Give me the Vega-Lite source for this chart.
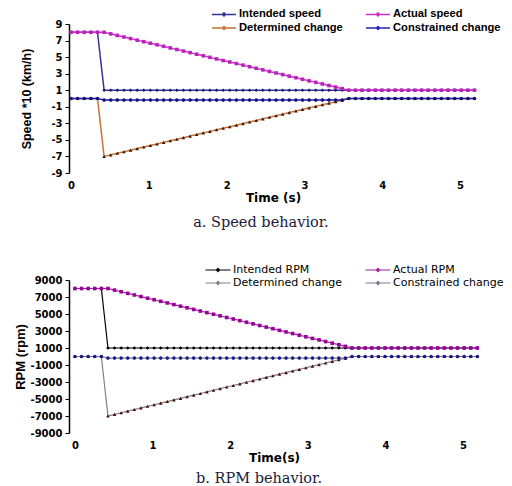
{
  "$schema": "https://vega.github.io/schema/vega-lite/v6.json",
  "padding": {"left": 14, "top": 7, "right": 5, "bottom": 0},
  "background": "white",
  "spacing": 33,
  "config": {"view": {"stroke": null}, "font": "Liberation Sans"},
  "datasets": {
    "speed": [
      {"t":0,"Intended speed":8,"Actual speed":8,"Determined change":0,"Constrained change":0},
      {"t":0.085,"Intended speed":8,"Actual speed":8,"Determined change":0,"Constrained change":0},
      {"t":0.17,"Intended speed":8,"Actual speed":8,"Determined change":0,"Constrained change":0},
      {"t":0.255,"Intended speed":8,"Actual speed":8,"Determined change":0,"Constrained change":0},
      {"t":0.34,"Intended speed":8,"Actual speed":8,"Determined change":0,"Constrained change":0},
      {"t":0.425,"Intended speed":1,"Actual speed":8,"Determined change":-7,"Constrained change":-0.19},
      {"t":0.51,"Intended speed":1,"Actual speed":7.81,"Determined change":-6.81,"Constrained change":-0.19},
      {"t":0.595,"Intended speed":1,"Actual speed":7.62,"Determined change":-6.62,"Constrained change":-0.19},
      {"t":0.68,"Intended speed":1,"Actual speed":7.43,"Determined change":-6.43,"Constrained change":-0.19},
      {"t":0.765,"Intended speed":1,"Actual speed":7.24,"Determined change":-6.24,"Constrained change":-0.19},
      {"t":0.85,"Intended speed":1,"Actual speed":7.05,"Determined change":-6.05,"Constrained change":-0.19},
      {"t":0.935,"Intended speed":1,"Actual speed":6.86,"Determined change":-5.86,"Constrained change":-0.19},
      {"t":1.02,"Intended speed":1,"Actual speed":6.68,"Determined change":-5.68,"Constrained change":-0.19},
      {"t":1.105,"Intended speed":1,"Actual speed":6.49,"Determined change":-5.49,"Constrained change":-0.19},
      {"t":1.19,"Intended speed":1,"Actual speed":6.3,"Determined change":-5.3,"Constrained change":-0.19},
      {"t":1.275,"Intended speed":1,"Actual speed":6.11,"Determined change":-5.11,"Constrained change":-0.19},
      {"t":1.36,"Intended speed":1,"Actual speed":5.92,"Determined change":-4.92,"Constrained change":-0.19},
      {"t":1.445,"Intended speed":1,"Actual speed":5.73,"Determined change":-4.73,"Constrained change":-0.19},
      {"t":1.53,"Intended speed":1,"Actual speed":5.54,"Determined change":-4.54,"Constrained change":-0.19},
      {"t":1.615,"Intended speed":1,"Actual speed":5.35,"Determined change":-4.35,"Constrained change":-0.19},
      {"t":1.7,"Intended speed":1,"Actual speed":5.16,"Determined change":-4.16,"Constrained change":-0.19},
      {"t":1.785,"Intended speed":1,"Actual speed":4.97,"Determined change":-3.97,"Constrained change":-0.19},
      {"t":1.87,"Intended speed":1,"Actual speed":4.78,"Determined change":-3.78,"Constrained change":-0.19},
      {"t":1.955,"Intended speed":1,"Actual speed":4.59,"Determined change":-3.59,"Constrained change":-0.19},
      {"t":2.04,"Intended speed":1,"Actual speed":4.41,"Determined change":-3.41,"Constrained change":-0.19},
      {"t":2.125,"Intended speed":1,"Actual speed":4.22,"Determined change":-3.22,"Constrained change":-0.19},
      {"t":2.21,"Intended speed":1,"Actual speed":4.03,"Determined change":-3.03,"Constrained change":-0.19},
      {"t":2.295,"Intended speed":1,"Actual speed":3.84,"Determined change":-2.84,"Constrained change":-0.19},
      {"t":2.38,"Intended speed":1,"Actual speed":3.65,"Determined change":-2.65,"Constrained change":-0.19},
      {"t":2.465,"Intended speed":1,"Actual speed":3.46,"Determined change":-2.46,"Constrained change":-0.19},
      {"t":2.55,"Intended speed":1,"Actual speed":3.27,"Determined change":-2.27,"Constrained change":-0.19},
      {"t":2.635,"Intended speed":1,"Actual speed":3.08,"Determined change":-2.08,"Constrained change":-0.19},
      {"t":2.72,"Intended speed":1,"Actual speed":2.89,"Determined change":-1.89,"Constrained change":-0.19},
      {"t":2.805,"Intended speed":1,"Actual speed":2.7,"Determined change":-1.7,"Constrained change":-0.19},
      {"t":2.89,"Intended speed":1,"Actual speed":2.51,"Determined change":-1.51,"Constrained change":-0.19},
      {"t":2.975,"Intended speed":1,"Actual speed":2.32,"Determined change":-1.32,"Constrained change":-0.19},
      {"t":3.06,"Intended speed":1,"Actual speed":2.13,"Determined change":-1.13,"Constrained change":-0.19},
      {"t":3.145,"Intended speed":1,"Actual speed":1.95,"Determined change":-0.95,"Constrained change":-0.19},
      {"t":3.23,"Intended speed":1,"Actual speed":1.76,"Determined change":-0.76,"Constrained change":-0.19},
      {"t":3.315,"Intended speed":1,"Actual speed":1.57,"Determined change":-0.57,"Constrained change":-0.19},
      {"t":3.4,"Intended speed":1,"Actual speed":1.38,"Determined change":-0.38,"Constrained change":-0.19},
      {"t":3.485,"Intended speed":1,"Actual speed":1.19,"Determined change":-0.19,"Constrained change":-0.19},
      {"t":3.57,"Intended speed":1,"Actual speed":1,"Determined change":0,"Constrained change":0},
      {"t":3.655,"Intended speed":1,"Actual speed":1,"Determined change":0,"Constrained change":0},
      {"t":3.74,"Intended speed":1,"Actual speed":1,"Determined change":0,"Constrained change":0},
      {"t":3.825,"Intended speed":1,"Actual speed":1,"Determined change":0,"Constrained change":0},
      {"t":3.91,"Intended speed":1,"Actual speed":1,"Determined change":0,"Constrained change":0},
      {"t":3.995,"Intended speed":1,"Actual speed":1,"Determined change":0,"Constrained change":0},
      {"t":4.08,"Intended speed":1,"Actual speed":1,"Determined change":0,"Constrained change":0},
      {"t":4.165,"Intended speed":1,"Actual speed":1,"Determined change":0,"Constrained change":0},
      {"t":4.25,"Intended speed":1,"Actual speed":1,"Determined change":0,"Constrained change":0},
      {"t":4.335,"Intended speed":1,"Actual speed":1,"Determined change":0,"Constrained change":0},
      {"t":4.42,"Intended speed":1,"Actual speed":1,"Determined change":0,"Constrained change":0},
      {"t":4.505,"Intended speed":1,"Actual speed":1,"Determined change":0,"Constrained change":0},
      {"t":4.59,"Intended speed":1,"Actual speed":1,"Determined change":0,"Constrained change":0},
      {"t":4.675,"Intended speed":1,"Actual speed":1,"Determined change":0,"Constrained change":0},
      {"t":4.76,"Intended speed":1,"Actual speed":1,"Determined change":0,"Constrained change":0},
      {"t":4.845,"Intended speed":1,"Actual speed":1,"Determined change":0,"Constrained change":0},
      {"t":4.93,"Intended speed":1,"Actual speed":1,"Determined change":0,"Constrained change":0},
      {"t":5.015,"Intended speed":1,"Actual speed":1,"Determined change":0,"Constrained change":0},
      {"t":5.1,"Intended speed":1,"Actual speed":1,"Determined change":0,"Constrained change":0},
      {"t":5.185,"Intended speed":1,"Actual speed":1,"Determined change":0,"Constrained change":0}
    ],
    "rpm": [
      {"t":0,"Intended RPM":8000,"Actual RPM":8000,"Determined change":0,"Constrained change":0},
      {"t":0.085,"Intended RPM":8000,"Actual RPM":8000,"Determined change":0,"Constrained change":0},
      {"t":0.17,"Intended RPM":8000,"Actual RPM":8000,"Determined change":0,"Constrained change":0},
      {"t":0.255,"Intended RPM":8000,"Actual RPM":8000,"Determined change":0,"Constrained change":0},
      {"t":0.34,"Intended RPM":8000,"Actual RPM":8000,"Determined change":0,"Constrained change":0},
      {"t":0.425,"Intended RPM":1000,"Actual RPM":8000,"Determined change":-7000,"Constrained change":-190},
      {"t":0.51,"Intended RPM":1000,"Actual RPM":7810,"Determined change":-6810,"Constrained change":-190},
      {"t":0.595,"Intended RPM":1000,"Actual RPM":7620,"Determined change":-6620,"Constrained change":-190},
      {"t":0.68,"Intended RPM":1000,"Actual RPM":7430,"Determined change":-6430,"Constrained change":-190},
      {"t":0.765,"Intended RPM":1000,"Actual RPM":7240,"Determined change":-6240,"Constrained change":-190},
      {"t":0.85,"Intended RPM":1000,"Actual RPM":7050,"Determined change":-6050,"Constrained change":-190},
      {"t":0.935,"Intended RPM":1000,"Actual RPM":6860,"Determined change":-5860,"Constrained change":-190},
      {"t":1.02,"Intended RPM":1000,"Actual RPM":6680,"Determined change":-5680,"Constrained change":-190},
      {"t":1.105,"Intended RPM":1000,"Actual RPM":6490,"Determined change":-5490,"Constrained change":-190},
      {"t":1.19,"Intended RPM":1000,"Actual RPM":6300,"Determined change":-5300,"Constrained change":-190},
      {"t":1.275,"Intended RPM":1000,"Actual RPM":6110,"Determined change":-5110,"Constrained change":-190},
      {"t":1.36,"Intended RPM":1000,"Actual RPM":5920,"Determined change":-4920,"Constrained change":-190},
      {"t":1.445,"Intended RPM":1000,"Actual RPM":5730,"Determined change":-4730,"Constrained change":-190},
      {"t":1.53,"Intended RPM":1000,"Actual RPM":5540,"Determined change":-4540,"Constrained change":-190},
      {"t":1.615,"Intended RPM":1000,"Actual RPM":5350,"Determined change":-4350,"Constrained change":-190},
      {"t":1.7,"Intended RPM":1000,"Actual RPM":5160,"Determined change":-4160,"Constrained change":-190},
      {"t":1.785,"Intended RPM":1000,"Actual RPM":4970,"Determined change":-3970,"Constrained change":-190},
      {"t":1.87,"Intended RPM":1000,"Actual RPM":4780,"Determined change":-3780,"Constrained change":-190},
      {"t":1.955,"Intended RPM":1000,"Actual RPM":4590,"Determined change":-3590,"Constrained change":-190},
      {"t":2.04,"Intended RPM":1000,"Actual RPM":4410,"Determined change":-3410,"Constrained change":-190},
      {"t":2.125,"Intended RPM":1000,"Actual RPM":4220,"Determined change":-3220,"Constrained change":-190},
      {"t":2.21,"Intended RPM":1000,"Actual RPM":4030,"Determined change":-3030,"Constrained change":-190},
      {"t":2.295,"Intended RPM":1000,"Actual RPM":3840,"Determined change":-2840,"Constrained change":-190},
      {"t":2.38,"Intended RPM":1000,"Actual RPM":3650,"Determined change":-2650,"Constrained change":-190},
      {"t":2.465,"Intended RPM":1000,"Actual RPM":3460,"Determined change":-2460,"Constrained change":-190},
      {"t":2.55,"Intended RPM":1000,"Actual RPM":3270,"Determined change":-2270,"Constrained change":-190},
      {"t":2.635,"Intended RPM":1000,"Actual RPM":3080,"Determined change":-2080,"Constrained change":-190},
      {"t":2.72,"Intended RPM":1000,"Actual RPM":2890,"Determined change":-1890,"Constrained change":-190},
      {"t":2.805,"Intended RPM":1000,"Actual RPM":2700,"Determined change":-1700,"Constrained change":-190},
      {"t":2.89,"Intended RPM":1000,"Actual RPM":2510,"Determined change":-1510,"Constrained change":-190},
      {"t":2.975,"Intended RPM":1000,"Actual RPM":2320,"Determined change":-1320,"Constrained change":-190},
      {"t":3.06,"Intended RPM":1000,"Actual RPM":2130,"Determined change":-1130,"Constrained change":-190},
      {"t":3.145,"Intended RPM":1000,"Actual RPM":1950,"Determined change":-950,"Constrained change":-190},
      {"t":3.23,"Intended RPM":1000,"Actual RPM":1760,"Determined change":-760,"Constrained change":-190},
      {"t":3.315,"Intended RPM":1000,"Actual RPM":1570,"Determined change":-570,"Constrained change":-190},
      {"t":3.4,"Intended RPM":1000,"Actual RPM":1380,"Determined change":-380,"Constrained change":-190},
      {"t":3.485,"Intended RPM":1000,"Actual RPM":1190,"Determined change":-190,"Constrained change":-190},
      {"t":3.57,"Intended RPM":1000,"Actual RPM":1000,"Determined change":0,"Constrained change":0},
      {"t":3.655,"Intended RPM":1000,"Actual RPM":1000,"Determined change":0,"Constrained change":0},
      {"t":3.74,"Intended RPM":1000,"Actual RPM":1000,"Determined change":0,"Constrained change":0},
      {"t":3.825,"Intended RPM":1000,"Actual RPM":1000,"Determined change":0,"Constrained change":0},
      {"t":3.91,"Intended RPM":1000,"Actual RPM":1000,"Determined change":0,"Constrained change":0},
      {"t":3.995,"Intended RPM":1000,"Actual RPM":1000,"Determined change":0,"Constrained change":0},
      {"t":4.08,"Intended RPM":1000,"Actual RPM":1000,"Determined change":0,"Constrained change":0},
      {"t":4.165,"Intended RPM":1000,"Actual RPM":1000,"Determined change":0,"Constrained change":0},
      {"t":4.25,"Intended RPM":1000,"Actual RPM":1000,"Determined change":0,"Constrained change":0},
      {"t":4.335,"Intended RPM":1000,"Actual RPM":1000,"Determined change":0,"Constrained change":0},
      {"t":4.42,"Intended RPM":1000,"Actual RPM":1000,"Determined change":0,"Constrained change":0},
      {"t":4.505,"Intended RPM":1000,"Actual RPM":1000,"Determined change":0,"Constrained change":0},
      {"t":4.59,"Intended RPM":1000,"Actual RPM":1000,"Determined change":0,"Constrained change":0},
      {"t":4.675,"Intended RPM":1000,"Actual RPM":1000,"Determined change":0,"Constrained change":0},
      {"t":4.76,"Intended RPM":1000,"Actual RPM":1000,"Determined change":0,"Constrained change":0},
      {"t":4.845,"Intended RPM":1000,"Actual RPM":1000,"Determined change":0,"Constrained change":0},
      {"t":4.93,"Intended RPM":1000,"Actual RPM":1000,"Determined change":0,"Constrained change":0},
      {"t":5.015,"Intended RPM":1000,"Actual RPM":1000,"Determined change":0,"Constrained change":0},
      {"t":5.1,"Intended RPM":1000,"Actual RPM":1000,"Determined change":0,"Constrained change":0},
      {"t":5.185,"Intended RPM":1000,"Actual RPM":1000,"Determined change":0,"Constrained change":0}
    ]
  },
  "resolve": {"scale": {"x": "independent", "y": "independent", "color": "independent", "fill": "independent", "shape": "independent"}, "legend": {"color": "independent"}},
  "vconcat": [
    {
      "width": 430,
      "height": 149,
      "data": {"name": "speed"},
      "title": {"text": "a. Speed behavior.", "orient": "bottom", "frame": "bounds", "anchor": "middle", "font": "DejaVu Serif", "fontSize": 14.5, "fontWeight": "normal", "color": "#1a1a3a", "offset": 13},
      "encoding": {
        "x": {"field": "t", "type": "quantitative", "scale": {"domain": [-0.026, 5.5], "nice": false, "zero": false},
          "axis": {"values": [0, 1, 2, 3, 4, 5], "domain": false, "ticks": false, "grid": false, "labelFont": "DejaVu Sans", "labelFontWeight": "bold", "labelFontSize": 10, "labelColor": "black", "labelPadding": 7, "title": "Time (s)", "titleFont": "DejaVu Sans", "titleFontSize": 12, "titleFontWeight": "bold", "titleColor": "black", "titlePadding": 2, "titleX": 204}},
        "y": {"type": "quantitative", "scale": {"domain": [-9, 9], "nice": false},
          "axis": {"values": [-9, -7, -5, -3, -1, 1, 3, 5, 7, 9], "labelExpr": "'' + datum.value", "grid": false, "domainColor": "black", "domainWidth": 1.5, "tickColor": "black", "tickSize": 4, "labelPadding": 3, "labelFont": "DejaVu Sans", "labelFontWeight": "bold", "labelFontSize": 10, "labelColor": "black", "title": "Speed *10 (km/h)", "titleFont": "Liberation Sans", "titleFontSize": 12.5, "titleFontWeight": "bold", "titleColor": "black", "titlePadding": 17}}
      },
      "layer": [
        {"transform": [{"fold": ["Intended speed", "Actual speed", "Determined change", "Constrained change"], "as": ["series", "value"]}],
          "mark": {"type": "line", "strokeWidth": 1.5},
          "encoding": {"y": {"field": "value", "type": "quantitative"},
            "color": {"field": "series", "type": "nominal",
            "scale": {"domain": ["Intended speed", "Determined change", "Actual speed", "Constrained change"], "range": ["#333399", "#C87137", "#CC33CC", "#2222BB"]},
            "legend": {"title": null, "orient": "none", "legendX": 148, "legendY": -17, "columns": 2, "columnPadding": 20, "rowPadding": 1, "symbolType": "M-2,0L2,0M-0.25,0L0,-0.25L0.25,0L0,0.25Z", "symbolSize": 144, "symbolStrokeWidth": 1.5, "labelOffset": 8, "labelFont": "Liberation Sans", "labelFontWeight": "bold", "labelFontSize": 11.2, "labelColor": "black"}}}},
        {"transform": [{"fold": ["Intended speed", "Actual speed", "Determined change", "Constrained change"], "as": ["pseries", "pvalue"]}],
          "mark": {"type": "point", "filled": true, "size": 13, "strokeWidth": 0, "opacity": 1},
          "encoding": {
            "y": {"field": "pvalue", "type": "quantitative"},
            "shape": {"field": "pseries", "type": "nominal", "scale": {"domain": ["Intended speed", "Actual speed", "Determined change", "Constrained change"], "range": ["diamond", "square", "triangle-up", "circle"]}, "legend": null},
            "fill": {"field": "pseries", "type": "nominal", "scale": {"domain": ["Intended speed", "Actual speed", "Determined change", "Constrained change"], "range": ["#1a1a66", "#BB22BB", "#3a1a0a", "#111177"]}, "legend": null}}}
      ]
    },
    {
      "width": 430,
      "height": 153,
      "data": {"name": "rpm"},
      "title": {"text": "b. RPM behavior.", "orient": "bottom", "frame": "bounds", "anchor": "middle", "font": "DejaVu Serif", "fontSize": 14.5, "fontWeight": "normal", "color": "#1a1a3a", "offset": 9},
      "encoding": {
        "x": {"field": "t", "type": "quantitative", "scale": {"domain": [-0.077, 5.464], "nice": false, "zero": false},
          "axis": {"values": [0, 1, 2, 3, 4, 5], "domain": false, "ticks": false, "grid": false, "labelFont": "DejaVu Sans", "labelFontWeight": "bold", "labelFontSize": 10, "labelColor": "black", "labelPadding": 7, "title": "Time(s)", "titleFont": "DejaVu Sans", "titleFontSize": 12, "titleFontWeight": "bold", "titleColor": "black", "titlePadding": 2, "titleX": 205}},
        "y": {"type": "quantitative", "scale": {"domain": [-9000, 9000], "nice": false},
          "axis": {"values": [-9000, -7000, -5000, -3000, -1000, 1000, 3000, 5000, 7000, 9000], "labelExpr": "'' + datum.value", "grid": false, "domainColor": "black", "domainWidth": 1.5, "tickColor": "black", "tickSize": 4, "labelPadding": 3, "labelFont": "DejaVu Sans", "labelFontWeight": "bold", "labelFontSize": 10, "labelColor": "black", "title": "RPM (rpm)", "titleFont": "Liberation Sans", "titleFontSize": 13, "titleFontWeight": "bold", "titleColor": "black", "titlePadding": 3}}
      },
      "layer": [
        {"transform": [{"fold": ["Intended RPM", "Actual RPM", "Determined change", "Constrained change"], "as": ["series", "value"]}],
          "mark": {"type": "line", "strokeWidth": 1.2},
          "encoding": {"y": {"field": "value", "type": "quantitative"},
            "color": {"field": "series", "type": "nominal",
            "scale": {"domain": ["Intended RPM", "Determined change", "Actual RPM", "Constrained change"], "range": ["#000000", "#808080", "#A020A0", "#7a7a8a"]},
            "legend": {"title": null, "orient": "none", "legendX": 142, "legendY": -17, "columns": 2, "columnPadding": 20, "rowPadding": 1, "symbolType": "M-2,0L2,0M-0.25,0L0,-0.25L0.25,0L0,0.25Z", "symbolSize": 156, "symbolStrokeWidth": 1.2, "labelOffset": 8, "labelFont": "DejaVu Sans", "labelFontWeight": "normal", "labelFontSize": 11, "labelColor": "black"}}}},
        {"transform": [{"fold": ["Intended RPM", "Actual RPM", "Determined change", "Constrained change"], "as": ["pseries", "pvalue"]}],
          "mark": {"type": "point", "filled": true, "size": 13, "strokeWidth": 0, "opacity": 1},
          "encoding": {
            "y": {"field": "pvalue", "type": "quantitative"},
            "shape": {"field": "pseries", "type": "nominal", "scale": {"domain": ["Intended RPM", "Actual RPM", "Determined change", "Constrained change"], "range": ["diamond", "square", "triangle-up", "circle"]}, "legend": null},
            "fill": {"field": "pseries", "type": "nominal", "scale": {"domain": ["Intended RPM", "Actual RPM", "Determined change", "Constrained change"], "range": ["#000000", "#99009A", "#4a0a0a", "#1a1a8a"]}, "legend": null}}}
      ]
    }
  ]
}
